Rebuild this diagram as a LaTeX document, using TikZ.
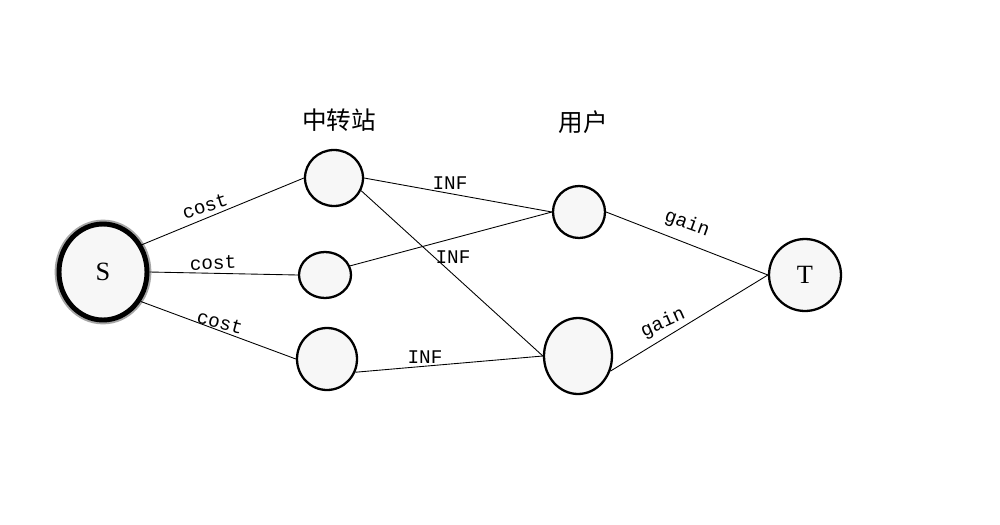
\documentclass[tikz,border=0pt]{standalone}
\usepackage{fontspec}
\setmainfont{Liberation Serif}
\newfontfamily\cjk{Noto Sans CJK SC}
\newfontfamily\lbl{Liberation Mono}
\usetikzlibrary{shapes.geometric}
\begin{document}
\begin{tikzpicture}[x=0.02cm,y=-0.02cm,
  nd/.style={ellipse,draw,line width=1.3pt,fill=black!3,inner sep=0pt,font=\fontsize{15}{15}\selectfont},
  ed/.style={line width=0.5pt},
  lb/.style={font=\lbl\fontsize{11}{11}\selectfont,inner sep=0pt}]
\useasboundingbox (0,0) rectangle (1000,524);
\fill[white] (0,0) rectangle (1000,524);
\node[nd,minimum width=1.76cm,minimum height=1.92cm,draw=black!35,line width=5pt] (Sg) at (103,272) {};
\node[nd,minimum width=1.76cm,minimum height=1.92cm,line width=2.8pt] (S) at (103,272) {S};
\node[nd,minimum width=1.16cm,minimum height=1.12cm] (A1) at (334,178) {};
\node[nd,minimum width=1.04cm,minimum height=0.92cm] (A2) at (325,275) {};
\node[nd,minimum width=1.2cm,minimum height=1.24cm] (A3) at (327,359) {};
\node[nd,minimum width=1.04cm,minimum height=1.04cm] (U1) at (579,212) {};
\node[nd,minimum width=1.36cm,minimum height=1.52cm] (U2) at (578,356) {};
\node[nd,minimum width=1.44cm,minimum height=1.44cm] (T) at (805,275) {T};
\node[font=\cjk\fontsize{14}{14}\selectfont] (l1) at (339,120) {中转站};
\node[font=\cjk\fontsize{14}{14}\selectfont] (l2) at (583,122) {用户};
\draw[ed] (S.35) -- (A1.west);
\draw[ed] (S.east) -- (A2.west);
\draw[ed] (S.-38) -- (A3.west);
\draw[ed] (A1.east) -- (U1.west);
\draw[ed] (A1.-25) -- (U2.west);
\draw[ed] (A2.20) -- (U1.west);
\draw[ed] (A3.-25) -- (U2.west);
\draw[ed] (U1.east) -- (T.west);
\draw[ed] (U2.-25) -- (T.west);
\node[lb,rotate=18] (c1) at (205,206) {cost};
\node[lb,rotate=2] (c2) at (213,263) {cost};
\node[lb,rotate=-15] (c3) at (220,322) {cost};
\node[lb] (i1) at (450,183) {INF};
\node[lb] (i2) at (453,257) {INF};
\node[lb] (i3) at (425,357) {INF};
\node[lb,rotate=-20] (g1) at (687,224) {gain};
\node[lb,rotate=24] (g2) at (663,323) {gain};
\end{tikzpicture}
\end{document}
